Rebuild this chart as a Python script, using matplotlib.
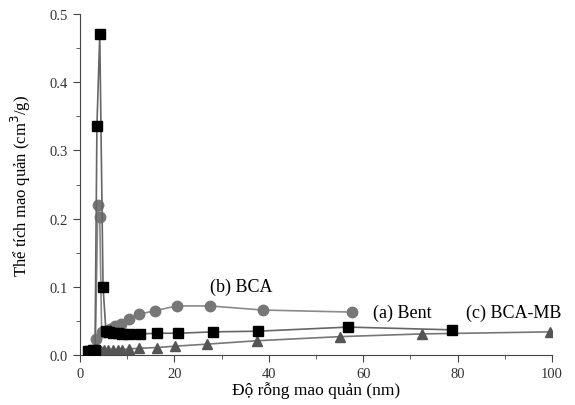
import matplotlib
matplotlib.use("Agg")
import matplotlib.pyplot as plt
from matplotlib.ticker import MultipleLocator

plt.rcParams['font.family'] = ['Liberation Serif', 'DejaVu Serif']

# (a) Bent - squares
bent_x = [1.7, 2.2, 2.7, 3.2, 3.6, 4.2, 4.9, 5.5, 6.2, 7.0, 8.0, 9.0, 10.5, 12.7, 16.3, 20.8, 28.2, 37.7, 56.8, 78.8]
bent_y = [0.006, 0.006, 0.007, 0.008, 0.336, 0.47, 0.10, 0.036, 0.034, 0.033, 0.032, 0.031, 0.031, 0.031, 0.032, 0.032, 0.034, 0.035, 0.041, 0.037]

# (b) BCA - circles
bca_x = [3.3, 3.8, 4.2, 4.6, 5.2, 6.3, 7.5, 8.8, 10.5, 12.6, 15.9, 20.5, 27.5, 38.8, 57.6]
bca_y = [0.024, 0.22, 0.202, 0.034, 0.034, 0.038, 0.042, 0.046, 0.053, 0.060, 0.065, 0.072, 0.072, 0.066, 0.063]

# (c) BCA-MB - triangles
mb_x = [2.0, 2.5, 3.0, 3.5, 4.0, 4.5, 5.2, 6.0, 7.0, 8.0, 9.0, 10.5, 12.5, 16.3, 20.1, 26.9, 37.5, 55.0, 72.5, 99.5]
mb_y = [0.003, 0.004, 0.004, 0.005, 0.006, 0.006, 0.007, 0.007, 0.007, 0.008, 0.008, 0.009, 0.010, 0.011, 0.013, 0.016, 0.021, 0.027, 0.031, 0.034]

fig = plt.figure(figsize=(5.75, 4.06), dpi=100)
ax = fig.add_axes([0.139, 0.123, 0.821, 0.84])

ax.plot(bent_x, bent_y, color='#666666', lw=1.2, marker='s', ms=6.5,
        mfc='black', mec='black', zorder=3)
ax.plot(bca_x, bca_y, color='#8a8a8a', lw=1.2, marker='o', ms=7.5,
        mfc='#777777', mec='#777777', zorder=2)
ax.plot(mb_x, mb_y, color='#777777', lw=1.2, marker='^', ms=7,
        mfc='#555555', mec='#555555', zorder=2)

ax.text(27.5, 0.101, '(b) BCA', fontsize=13, ha='left', va='center')
ax.text(62, 0.062, '(a) Bent', fontsize=13, ha='left', va='center')
ax.text(81.8, 0.062, '(c) BCA-MB', fontsize=13, ha='left', va='center')

ax.set_xlim(0, 100)
ax.set_ylim(0, 0.5)
ax.xaxis.set_major_locator(MultipleLocator(20))
ax.xaxis.set_minor_locator(MultipleLocator(10))
ax.yaxis.set_major_locator(MultipleLocator(0.1))
ax.yaxis.set_minor_locator(MultipleLocator(0.05))
ax.yaxis.set_major_formatter(plt.FormatStrFormatter('%.1f'))
ax.tick_params(which='major', length=5, labelsize=10.5, color='#444444', labelcolor='#333333')
ax.tick_params(which='minor', length=3, color='#444444')

ax.spines['top'].set_visible(False)
ax.spines['right'].set_visible(False)
ax.spines['left'].set_color('#444444')
ax.spines['bottom'].set_color('#444444')

ax.set_xlabel('Độ rỗng mao quản (nm)', fontsize=12.5, labelpad=1)
ax.set_ylabel('Thể tích mao quản (cm$^3$/g)', fontsize=12, labelpad=12)

fig.savefig('out.png', dpi=100)
